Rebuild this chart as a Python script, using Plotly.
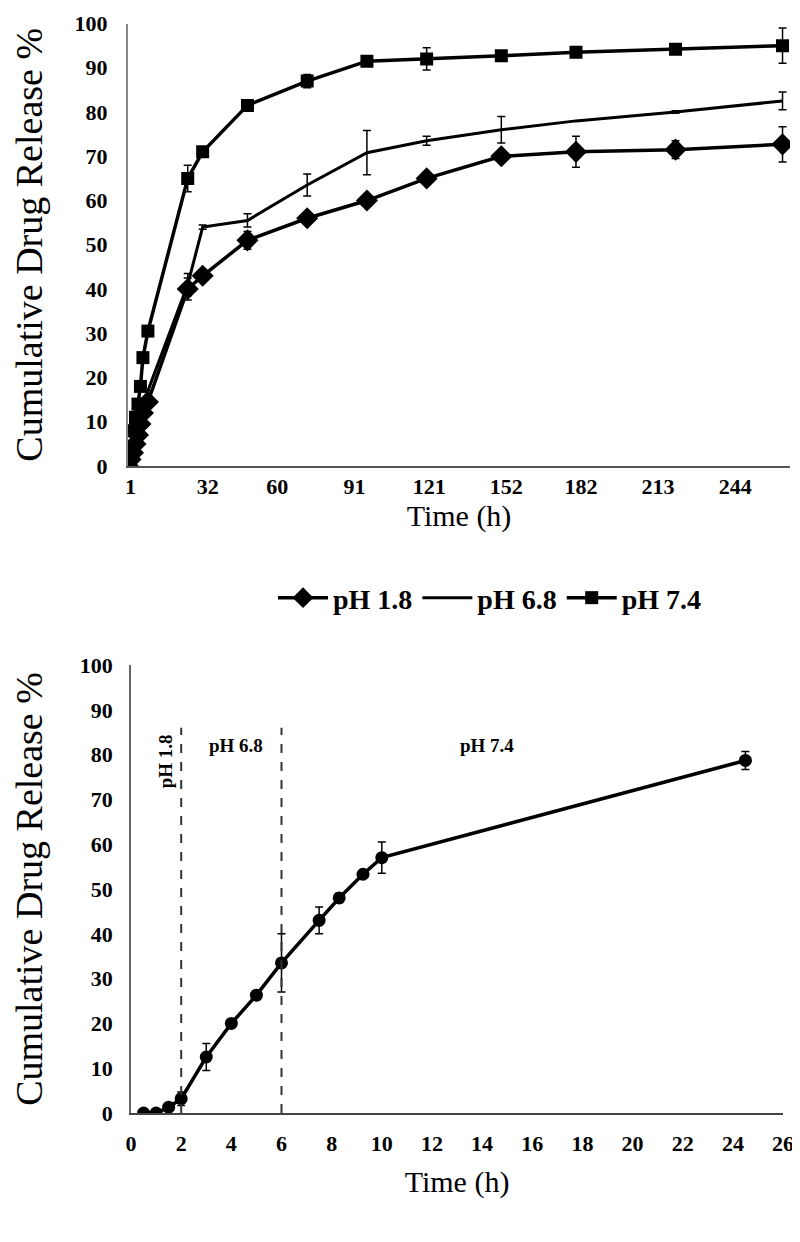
import plotly.graph_objects as go

# top panel: release in the three media (time in h)
time_top = [0, 1, 2, 3, 4, 5, 6, 8, 24, 30, 48, 72, 96, 120, 150, 180, 220, 263]
ph18 = [0, 1.5, 3, 5, 7, 9.5, 12, 14.5, 40, 43, 51, 56, 60, 65, 70, 71, 71.5, 72.7]
ph18_err = [0, 0, 0, 0, 0, 0, 0, 0, 2.5, 0, 2, 0, 0, 0, 1, 3.5, 2, 4]
ph68 = [0, 1.5, 3.5, 6, 8.5, 11, 14, 17, 41, 54, 55.5, 63.5, 70.8, 73.5, 76, 78, 80, 82.5]
ph68_err = [0, 0, 0, 0, 0, 0, 0, 0, 2.5, 0.5, 1.5, 2.5, 5, 1, 3, 0, 0.3, 2]
ph74 = [0, 4, 8, 11, 14, 18, 24.5, 30.5, 65, 71, 81.5, 87, 91.5, 92, 92.7, 93.5, 94.2, 95]
ph74_err = [0, 0, 0, 0, 0, 0, 0, 0, 3, 0, 0, 1.5, 0, 2.5, 0, 0, 0, 4]
top_ticks = [1, 32, 60, 91, 121, 152, 182, 213, 244]

# bottom panel: sequential pH change
time_bot = [0.5, 1, 1.5, 2, 3, 4, 5, 6, 7.5, 8.3, 9.25, 10, 24.5]
release_bot = [0, 0, 1.3, 3.2, 12.5, 20, 26.3, 33.5, 43, 48, 53.3, 57, 78.7]
release_bot_err = [0, 0, 0.5, 1.5, 3, 0.5, 1, 6.5, 3, 1, 0.5, 3.5, 2]
phase_bounds = [2, 6]
phase_labels = ["pH 1.8", "pH 6.8", "pH 7.4"]

serif = "Liberation Serif"
err = lambda e: dict(type="data", array=e, visible=True, color="black", thickness=1.5, width=4)

fig = go.Figure()
fig.add_trace(go.Scatter(x=time_top, y=ph18, name="pH 1.8", mode="lines+markers",
                         line=dict(color="black", width=3.5),
                         marker=dict(symbol="diamond", size=17, color="black"),
                         error_y=err(ph18_err), xaxis="x", yaxis="y"))
fig.add_trace(go.Scatter(x=time_top, y=ph68, name="pH 6.8", mode="lines",
                         line=dict(color="black", width=3),
                         error_y=err(ph68_err), xaxis="x", yaxis="y"))
fig.add_trace(go.Scatter(x=time_top, y=ph74, name="pH 7.4", mode="lines+markers",
                         line=dict(color="black", width=3.5),
                         marker=dict(symbol="square", size=13, color="black"),
                         error_y=err(ph74_err), xaxis="x", yaxis="y"))

fig.add_trace(go.Scatter(x=time_bot, y=release_bot, mode="lines+markers", showlegend=False,
                         line=dict(color="black", width=3.5),
                         marker=dict(symbol="circle", size=13, color="black"),
                         error_y=err(release_bot_err), xaxis="x2", yaxis="y2"))
for b in phase_bounds:
    fig.add_trace(go.Scatter(x=[b, b], y=[0, 86], mode="lines", showlegend=False,
                             line=dict(color="#333", width=2, dash="dash"),
                             xaxis="x2", yaxis="y2"))

afont = dict(family=serif, size=19, color="black", weight="bold")
fig.add_annotation(x=1.35, y=78.5, xref="x2", yref="y2", text=phase_labels[0], textangle=-90,
                   showarrow=False, font=afont)
fig.add_annotation(x=4.2, y=82, xref="x2", yref="y2", text=phase_labels[1],
                   showarrow=False, font=afont)
fig.add_annotation(x=14.2, y=82, xref="x2", yref="y2", text=phase_labels[2],
                   showarrow=False, font=afont)

tickfont = dict(family=serif, size=22, color="black", weight="bold")
titlefont = dict(family=serif, size=30, color="black")
ytitlefont = dict(family=serif, size=38, color="black")

fig.update_layout(
    width=800, height=1242,
    margin=dict(l=0, r=0, t=0, b=0),
    plot_bgcolor="white", paper_bgcolor="white",
    showlegend=True,
    legend=dict(orientation="h", x=0.6025, xanchor="center", y=0.525, yanchor="middle",
                font=dict(family=serif, size=28, color="black", weight="bold"),
                itemwidth=50, tracegroupgap=0),
    xaxis=dict(domain=[0.15, 0.9775], range=[0, 266], tickvals=top_ticks, automargin=False,
               showgrid=False, zeroline=False, showline=True, linecolor="#555", linewidth=2,
               ticks="", tickfont=tickfont, anchor="y", ticklabeloverflow="allow",
               title=dict(text="Time (h)", font=titlefont, standoff=6)),
    yaxis=dict(domain=[0.6312, 0.9875], range=[0, 100], dtick=10, automargin=False,
               showgrid=False, zeroline=False, showline=True, linecolor="#888", linewidth=2,
               ticks="", tickfont=tickfont, anchor="x", ticklabeloverflow="allow",
               ticklabelstandoff=14,
               title=dict(text="Cumulative Drug Release %", font=ytitlefont, standoff=40)),
    xaxis2=dict(domain=[0.1538, 0.9688], range=[0, 26], dtick=2, automargin=False,
                showgrid=False, zeroline=False, showline=True, linecolor="#444", linewidth=2,
                ticks="", tickfont=tickfont, anchor="y2", ticklabeloverflow="allow",
                ticklabelstandoff=10,
                title=dict(text="Time (h)", font=titlefont, standoff=16)),
    yaxis2=dict(domain=[0.1103, 0.4710], range=[0, 100], dtick=10, automargin=False,
                showgrid=False, zeroline=False, showline=True, linecolor="#666", linewidth=2,
                ticks="", tickfont=tickfont, anchor="x2", ticklabeloverflow="allow",
                ticklabelstandoff=12,
                title=dict(text="Cumulative Drug Release %", font=ytitlefont, standoff=40)),
)

fig.write_html("out.html")
